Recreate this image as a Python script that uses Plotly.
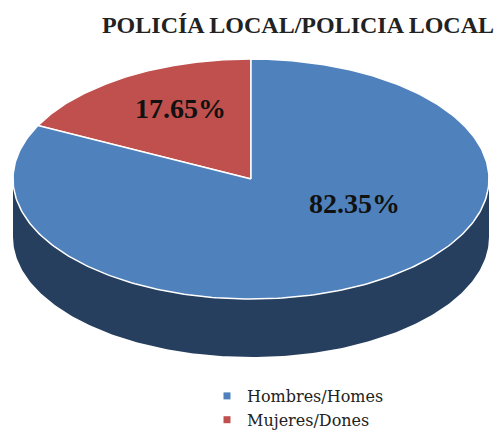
import numpy as np
import plotly.graph_objects as go

# Data
categories = ["Hombres/Homes", "Mujeres/Dones"]
shares = [82.35, 17.65]
colors = ["#4F81BD", "#C0504D"]
side_color = "#263F5E"

# Pie geometry in pixel space (axes span the whole canvas 1:1)
W, H = 501, 437
cx, cy, rx, ry, depth = 251, 179, 238, 120, 58


def rim(phi):
    """Point on the top ellipse; phi measured from 12 o'clock, counter-clockwise."""
    return cx - rx * np.sin(phi), cy - ry * np.cos(phi)


fig = go.Figure()

# Extruded side of the disc (front half only is visible)
t = np.linspace(0, np.pi, 200)
sx = np.concatenate([cx + rx * np.cos(t[::-1]), cx + rx * np.cos(t)])
sy = np.concatenate([cy + ry * np.sin(t[::-1]), cy + depth + ry * np.sin(t)])
fig.add_trace(go.Scatter(x=sx, y=sy, fill="toself", fillcolor=side_color,
                         mode="lines", line=dict(width=0), hoverinfo="skip",
                         showlegend=False))

# Top faces: the smaller slice starts at 12 o'clock and runs counter-clockwise
order = [1, 0]
start = 0.0
for i in order:
    sweep = shares[i] / sum(shares) * 2 * np.pi
    phi = np.linspace(start, start + sweep, 300)
    px, py = rim(phi)
    xs = np.concatenate([[cx], px, [cx]])
    ys = np.concatenate([[cy], py, [cy]])
    fig.add_trace(go.Scatter(x=xs, y=ys, fill="toself", fillcolor=colors[i],
                             mode="lines", line=dict(color="white", width=1.5),
                             hoverinfo="skip", showlegend=False))
    start += sweep

# Legend entries
for name, col in zip(categories, colors):
    fig.add_trace(go.Scatter(x=[None], y=[None], mode="markers", name=name,
                             marker=dict(symbol="square", size=7, color=col)))

# Percentage labels
label_pos = {0: (354, 203), 1: (180, 108)}
for i, (lx, ly) in label_pos.items():
    fig.add_annotation(x=lx, y=ly, text=f"<b>{shares[i]:.2f}%</b>", showarrow=False,
                       font=dict(family="Liberation Serif", size=28, color="#111111"))

fig.update_layout(
    width=W, height=H,
    margin=dict(l=0, r=0, t=0, b=0),
    paper_bgcolor="white", plot_bgcolor="white",
    xaxis=dict(range=[0, W], visible=False, fixedrange=True),
    yaxis=dict(range=[H, 0], visible=False, fixedrange=True),
    title=dict(text="<b>POLICÍA LOCAL/POLICIA LOCAL</b>", x=298 / W, xanchor="center",
               y=1 - 25 / H, yanchor="middle",
               font=dict(family="Liberation Serif", size=24, color="#222222")),
    legend=dict(x=207 / W, y=0, xanchor="left", yanchor="bottom",
                font=dict(family="DejaVu Serif", size=16, color="#222222"),
                tracegroupgap=0, itemwidth=30, bgcolor="rgba(0,0,0,0)"),
)

fig.write_html("out.html")
